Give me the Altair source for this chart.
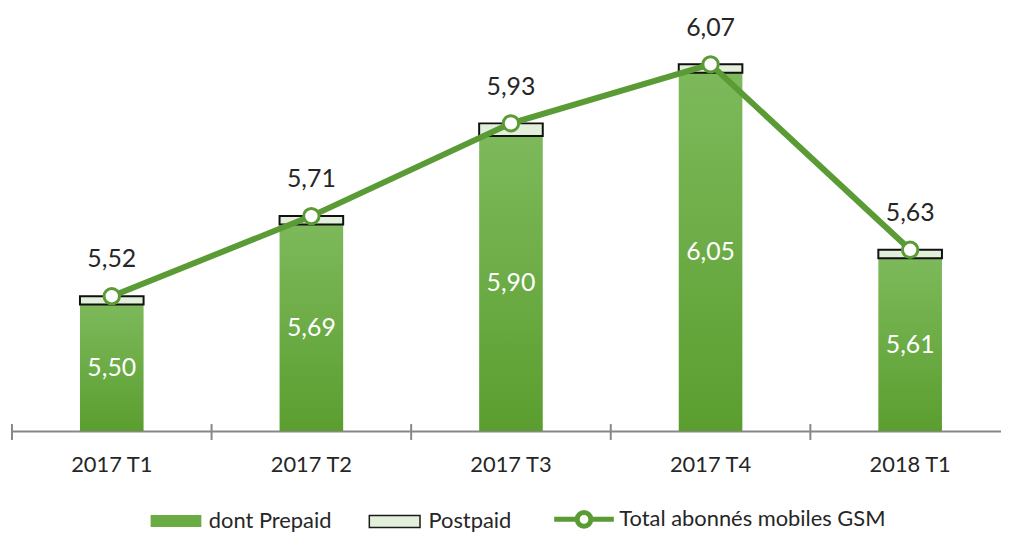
import altair as alt
import pandas as pd

categories = ["2017 T1", "2017 T2", "2017 T3", "2017 T4", "2018 T1"]
prepaid = [5.50, 5.69, 5.90, 6.05, 5.61]
total = [5.52, 5.71, 5.93, 6.07, 5.63]
series_names = ["dont Prepaid", "Postpaid", "Total abonnés mobiles GSM"]
y_domain = [5.2, 6.2]

FONT = "Lato"
GREEN_LINE = "#5b9b35"
TXT = "#262626"

df = pd.DataFrame({"cat": categories, "prepaid": prepaid, "total": total})
df["base"] = y_domain[0]

x_scale = alt.Scale(domain=categories, range=[0, 1004], paddingInner=0, paddingOuter=0)
x_axis = alt.Axis(title=None, labelAngle=0, ticks=False, domainColor="#878787",
                  domainWidth=2, labelFont=FONT, labelFontSize=22, labelColor=TXT,
                  labelPadding=24, grid=False)


def X(**kw):
    return alt.X("cat:N", sort=categories, scale=x_scale, axis=x_axis, **kw)


y_scale = alt.Scale(domain=y_domain, nice=False, zero=False)

base = alt.Chart(df).transform_calculate(
    total_lbl="replace(format(datum.total, '.2f'), '.', ',')",
    pre_lbl="replace(format(datum.prepaid, '.2f'), '.', ',')",
    mid="(datum.prepaid + datum.base) / 2",
)

ticks = base.mark_rule(color="#878787", strokeWidth=2).encode(
    x=X(bandPosition=0), y=alt.value(417), y2=alt.value(433)
)

grad = alt.Gradient(
    gradient="linear",
    stops=[alt.GradientStop(color="#7db95b", offset=0),
           alt.GradientStop(color="#5b9e2f", offset=1)],
    x1=0, x2=0, y1=0, y2=1,
)

pre_bars = base.mark_bar(size=64, color=grad).encode(
    x=X(),
    y=alt.Y("prepaid:Q", scale=y_scale, axis=None),
    y2="base:Q",
)

post_bars = base.mark_bar(size=64, fill="#e2efda", stroke="#111111", strokeWidth=2).encode(
    x=X(),
    y=alt.Y("total:Q", scale=y_scale, axis=None),
    y2="prepaid:Q",
)

line = base.mark_line(color=GREEN_LINE, strokeWidth=6).encode(
    x=X(), y=alt.Y("total:Q", scale=y_scale, axis=None)
)

points = base.mark_point(filled=True, fill="white", stroke=GREEN_LINE, strokeWidth=3,
                         size=240, opacity=1, shape="circle").encode(
    x=X(), y=alt.Y("total:Q", scale=y_scale, axis=None)
)

total_text = base.mark_text(font=FONT, fontSize=25, color=TXT, dy=-37, baseline="middle").encode(
    x=X(), y=alt.Y("total:Q", scale=y_scale, axis=None), text="total_lbl:N"
)

pre_text = base.mark_text(font=FONT, fontSize=25, color="white", baseline="middle").encode(
    x=X(), y=alt.Y("mid:Q", scale=y_scale, axis=None), text="pre_lbl:N"
)

rect_path = "M-0.85,-0.2L0.85,-0.2L0.85,0.2L-0.85,0.2Z"
line_path = ("M-1,0L-0.23,0M0.23,0L1,0M0.23,0A0.23,0.23,0,1,1,-0.23,0"
             "A0.23,0.23,0,1,1,0.23,0Z")

leg = alt.Legend(title=None, orient="none", legendX=135, legendY=480,
                 direction="horizontal", symbolSize=3600, labelFont=FONT,
                 labelFontSize=22, labelColor=TXT, labelOffset=3, columnPadding=32,
                 labelLimit=400, symbolOpacity=1)

legend_df = pd.DataFrame({"series": series_names})
legend_layer = alt.Chart(legend_df).transform_filter("false").mark_point(
    filled=True, opacity=1).encode(
    fill=alt.Fill("series:N", sort=series_names,
                  scale=alt.Scale(domain=series_names, range=["#6aab44", "#e2efda", "#ffffff"]),
                  legend=leg),
    stroke=alt.Stroke("series:N", sort=series_names,
                      scale=alt.Scale(domain=series_names, range=["#6aab44", "#1a1a1a", GREEN_LINE]),
                      legend=leg),
    shape=alt.Shape("series:N", sort=series_names,
                    scale=alt.Scale(domain=series_names, range=[rect_path, rect_path, line_path]),
                    legend=leg),
    strokeWidth=alt.StrokeWidth("series:N", sort=series_names,
                                scale=alt.Scale(type="ordinal", domain=series_names,
                                                range=[0, 1.5, 5]),
                                legend=leg),
)

chart = alt.layer(
    ticks, pre_bars, post_bars, line, points, total_text, pre_text, legend_layer
).properties(
    width=995, height=424,
    autosize=alt.AutoSizeParams(type="none"),
    padding={"left": 4, "top": 0, "right": 0, "bottom": 102},
).configure(background="white", view=alt.ViewConfig(stroke=None))

chart.save("out.html", embed_options={"renderer": "svg", "actions": False})
